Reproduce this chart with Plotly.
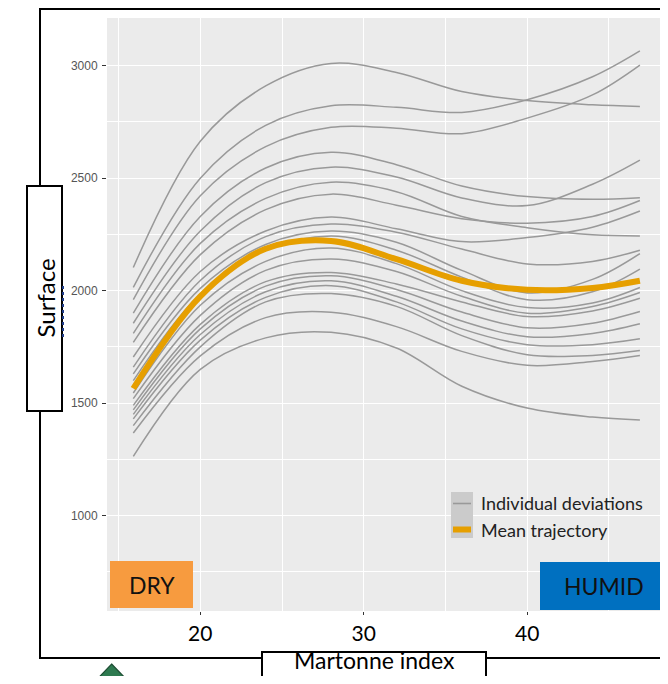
import plotly.graph_objects as go

# ---- data -------------------------------------------------------------
martonne = [15.9, 20, 24, 28, 32, 36, 40, 44, 46.9]

dev_a = [2103, 2664, 2910, 3010, 2970, 2885, 2845, 2826, 2819]
dev_b = [2015, 2500, 2735, 2822, 2815, 2792, 2849, 2951, 3066]
dev_c = [1960, 2422, 2640, 2726, 2722, 2698, 2767, 2870, 3003]
dev_d = [1900, 2330, 2545, 2615, 2560, 2465, 2418, 2406, 2413]
dev_e = [1855, 2265, 2480, 2549, 2505, 2412, 2378, 2473, 2580]
dev_f = [1810, 2210, 2410, 2482, 2440, 2330, 2280, 2248, 2243]
dev_g = [1770, 2160, 2360, 2429, 2380, 2320, 2300, 2330, 2401]
dev_h = [1705, 2085, 2265, 2327, 2275, 2218, 2236, 2282, 2354]
dev_i = [1660, 2045, 2240, 2296, 2260, 2185, 2119, 2130, 2180]
dev_j = [1630, 2010, 2205, 2265, 2215, 2090, 1990, 2050, 2165]
dev_k = [1600, 1985, 2180, 2243, 2180, 2060, 1960, 1995, 2096]
dev_l = [1545, 1935, 2130, 2190, 2120, 2000, 1925, 1945, 2014]
dev_m = [1520, 1890, 2090, 2141, 2085, 1975, 1900, 1930, 1992]
dev_n = [1490, 1850, 2040, 2081, 2030, 1950, 1885, 1910, 1966]
dev_o = [1470, 1830, 2020, 2066, 2005, 1905, 1835, 1855, 1907]
dev_p = [1450, 1805, 1995, 2044, 1975, 1865, 1795, 1810, 1853]
dev_q = [1430, 1780, 1970, 2022, 1950, 1830, 1760, 1760, 1786]
dev_r = [1400, 1750, 1950, 1987, 1930, 1800, 1715, 1712, 1734]
dev_s = [1367, 1710, 1880, 1904, 1840, 1730, 1668, 1685, 1712]
dev_t = [1263, 1650, 1790, 1815, 1745, 1575, 1478, 1438, 1425]

mean_trajectory = [1565, 1975, 2186, 2221, 2140, 2044, 2004, 2012, 2044]

x_ticks = [20, 30, 40]
x_minor = [15, 25, 35, 45]
y_ticks = [1000, 1500, 2000, 2500, 3000]
y_minor = [750, 1250, 1750, 2250, 2750]

legend_labels = ["Individual deviations", "Mean trajectory"]
zone_labels = ["DRY", "HUMID"]
x_title = "Martonne index"
y_title = "Surface"

deviations = [dev_a, dev_b, dev_c, dev_d, dev_e, dev_f, dev_g, dev_h, dev_i, dev_j,
              dev_k, dev_l, dev_m, dev_n, dev_o, dev_p, dev_q, dev_r, dev_s, dev_t]

# ---- figure -----------------------------------------------------------
# the page body keeps an 8px margin, so the figure is sized to fit the window
OFF = 8
W, H = 668 - 2 * OFF, 684 - 2 * OFF
ML, MR, MT, MB = 99, 0, 10, 65
PW, PH = W - ML - MR, H - MT - MB


def px(wx):
    return (wx - OFF - ML) / PW


def py(wy):
    return (H - MB - (wy - OFF)) / PH


GRAY = "#999999"
ORANGE = "#E69F00"
FONT = "Lato"

fig = go.Figure()
for dev in deviations:
    fig.add_trace(go.Scatter(
        x=martonne, y=dev, mode="lines",
        line=dict(color=GRAY, width=1.5, shape="spline", smoothing=1.0),
        name=legend_labels[0], legendgroup="dev", showlegend=False,
        hoverinfo="skip"))
fig.add_trace(go.Scatter(
    x=martonne, y=mean_trajectory, mode="lines",
    line=dict(color=ORANGE, width=6, shape="spline", smoothing=1.0),
    name=legend_labels[1], showlegend=False))

shapes = [
    # outer frame
    dict(type="rect", xref="paper", yref="paper", x0=px(40), x1=px(720),
         y0=py(658), y1=py(9), line=dict(color="black", width=2),
         fillcolor="rgba(0,0,0,0)", layer="above"),
    # y title box
    dict(type="rect", xref="paper", yref="paper", x0=px(27), x1=px(62),
         y0=py(411), y1=py(186), line=dict(color="black", width=2),
         fillcolor="white", layer="above"),
    # remnant of original y title
    dict(type="line", xref="paper", yref="paper", x0=px(63), x1=px(63),
         y0=py(337), y1=py(284), line=dict(color="#1F3C88", width=2, dash="dot"),
         layer="above"),
    # x title box
    dict(type="rect", xref="paper", yref="paper", x0=px(262), x1=px(486),
         y0=py(700), y1=py(652), line=dict(color="black", width=2),
         fillcolor="white", layer="above"),
    # DRY / HUMID boxes
    dict(type="rect", xref="paper", yref="paper", x0=px(110), x1=px(193),
         y0=py(608), y1=py(561), line=dict(width=0),
         fillcolor="#F79B3F", layer="above"),
    dict(type="rect", xref="paper", yref="paper", x0=px(540), x1=px(700),
         y0=py(610), y1=py(562), line=dict(width=0),
         fillcolor="#0070C0", layer="above"),
    # legend keys
    dict(type="rect", xref="paper", yref="paper", x0=px(451), x1=px(473),
         y0=py(538), y1=py(492), line=dict(width=0),
         fillcolor="#CBCBCB", layer="above"),
    dict(type="line", xref="paper", yref="paper", x0=px(453), x1=px(471),
         y0=py(503.5), y1=py(503.5), line=dict(color=GRAY, width=1.6),
         layer="above"),
    dict(type="line", xref="paper", yref="paper", x0=px(453), x1=px(471),
         y0=py(529.5), y1=py(529.5), line=dict(color=ORANGE, width=6),
         layer="above"),
    # green arrow
    dict(type="path", xref="paper", yref="paper",
         path=(f"M {px(111.6)},{py(664)} L {px(129)},{py(682)} L {px(120)},{py(682)} "
               f"L {px(120)},{py(700)} L {px(103)},{py(700)} L {px(103)},{py(682)} "
               f"L {px(94.5)},{py(682)} Z"),
         fillcolor="#2E7A50", line=dict(color="#1D4D33", width=1.2), layer="above"),
]


def note(text, wx, wy, size, color="black", angle=0, xanchor="center", yanchor="middle"):
    return dict(text=text, x=px(wx), y=py(wy), xref="paper", yref="paper",
                xanchor=xanchor, yanchor=yanchor, showarrow=False, textangle=angle,
                font=dict(family=FONT, size=size, color=color))


annotations = [
    note(y_title, 44.5, 298, 24, angle=-90),
    note(x_title, 374, 676, 23, yanchor="bottom"),
    note(zone_labels[0], 151.5, 585, 23, "#111111"),
    note(zone_labels[1], 604, 586, 23, "#111111"),
    note(legend_labels[0], 479, 503, 18, "#222222", xanchor="left"),
    note(legend_labels[1], 479, 530, 18, "#222222", xanchor="left"),
]

fig.update_layout(
    width=W, height=H,
    margin=dict(l=ML, r=MR, t=MT, b=MB, pad=0),
    paper_bgcolor="white", plot_bgcolor="#EBEBEB",
    showlegend=False,
    shapes=shapes, annotations=annotations,
    xaxis=dict(range=[14.29, 48.13], tickvals=x_ticks, ticks="outside", ticklen=3,
               tickwidth=1, tickcolor="#333333", ticklabelstandoff=1,
               tickfont=dict(family=FONT, size=21, color="black"),
               showgrid=True, gridcolor="white", gridwidth=1.2,
               minor=dict(tickvals=x_minor, showgrid=True, gridcolor="white",
                          gridwidth=0.6, ticks=""),
               zeroline=False, showline=False, fixedrange=True),
    yaxis=dict(range=[576, 3212], tickvals=y_ticks, ticks="outside", ticklen=4,
               tickwidth=1, tickcolor="#333333", ticklabelstandoff=2,
               tickfont=dict(family="Liberation Sans", size=12, color="#555555"),
               showgrid=True, gridcolor="white", gridwidth=1.2,
               minor=dict(tickvals=y_minor, showgrid=True, gridcolor="white",
                          gridwidth=0.6, ticks=""),
               zeroline=False, showline=False, fixedrange=True),
)

fig.write_html("out.html")
